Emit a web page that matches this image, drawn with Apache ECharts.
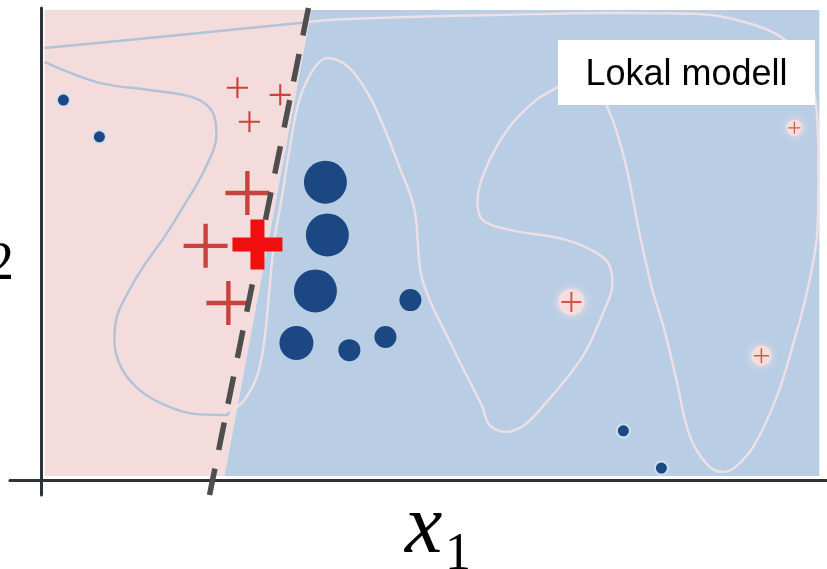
<!DOCTYPE html>
<html>
<head>
<meta charset="utf-8">
<script src="https://cdn.jsdelivr.net/npm/echarts@6/dist/echarts.min.js"></script>
<style>
html,body{margin:0;padding:0;background:#ffffff;}
#chart{width:827px;height:569px;}
</style>
</head>
<body>
<div id="chart"></div>
<script>
// ---- data (x1, x2 in chart units) ----
const pinkRegion = [[0.4,0.8],[0.4,99.6],[34.37,99.6],[23.3,0.85]];
const blueRegion = [[34.37,99.6],[99.03,99.6],[99.03,0.85],[23.3,0.85]];

const localModelLine = [[33.99,100],[21.4,-3.2]];

const contourTopPink = [[0.38,91.5],[20.11,94.72],[32.84,96.84],[33.99,97.05]];
const contourBlue = [
  [33.99,97.05],[36.66,97.48],[46.84,98.11],[58.30,98.54],[72.30,98.96],[83.76,98.75],
  [89.49,97.05],[93.94,94.09],[97.12,88.58],[98.52,80.52],[98.91,66.75],[98.78,52.98],
  [97.51,40.26],[95.85,29.67],[93.69,18.01],[90.76,7.42],[88.21,2.54],[86.69,1.70],
  [84.78,3.18],[82.48,9.54],[80.83,21.19],[79.30,31.79],[77.77,40.26],[76.12,52.34],
  [74.46,66.33],[72.94,75.21],[71.92,79.47],[71.03,83.70],[69.76,85.82],[67.85,85.19],
  [65.56,83.07],[63.01,80.53],[59.57,74.80],[56.65,66.33],[55.50,59.33],[56.14,55.10],
  [59.57,52.98],[66.83,50.86],[71.41,47.26],[72.56,44.08],[72.68,41.32],[71.66,36.02],
  [68.86,26.06],[63.77,15.47],[61.48,11.65],[59.19,10.17],[57.03,11.65],[56.14,15.47],
  [52.32,28.18],[48.50,42.38],[47.50,57.20],[45.57,66.33],[42.64,78.41],[40.48,84.76],
  [38.57,88.15],[36.41,89.43],[34.75,87.31],[32.84,80.53],[31.57,69.93],[30.55,59.33],
  [29.66,50.86],[29.02,40.26],[28.39,29.67],[27.50,22.25],[25.84,16.95],[23.93,14.41]
];
const contourPink = [
  [23.93,14.41],[23.55,13.77],[19.48,13.99],[15.66,15.89],[12.47,19.07],[10.18,23.73],
  [9.29,29.67],[9.67,34.96],[11.20,40.26],[13.11,45.56],[15.66,51.49],[18.20,58.27],
  [20.75,65.69],[22.28,73.11],[21.77,77.98],[19.48,80.95],[13.75,82.64],[7.38,84.13],
  [0.38,88.58]
];

const plusSmall = [[24.95,83.1],[30.4,81.6],[26.48,75.9]];
const plusLarge = [[26.22,60.8],[20.9,49.6],[23.8,37.5]];
const plusFocus = [[27.5,49.9]];
const plusFar = [[67.46,37.7],[91.65,26.3],[95.85,74.6]];

const circlesLarge = [[36.15,63.1],[36.4,51.9],[34.88,40.05]];
const circlesMid = [[32.46,29.0]];
const circlesSmall = [[39.2,27.5],[43.79,30.3],[46.97,38.1]];
const circlesTiny = [[2.8,80.5],[7.38,72.7],[74.08,10.4],[78.92,2.5]];

const boxLabel = 'Lokal modell';
const xLabelMain = 'x';
const xLabelSub = '1';
const yLabelSub = '2';

// ---- styles ----
const plusThin = 'path://M45,0h10v45h45v10h-45v45h-10v-45h-45v-10h45z';
const plusBold = 'path://M36,0h28v36h36v28h-36v36h-28v-36h-36v-28h36z';
const farSizes = [20, 15, 12];
const farHalo = [26, 20, 16];
const navy = '#1b4883';
const plusRed = '#c8433e';

function region(pts, color) {
  return {
    type: 'custom', z: 1, silent: true,
    data: [0],
    renderItem: function (params, api) {
      return {
        type: 'polygon',
        shape: { points: pts.map(p => api.coord(p)) },
        style: { fill: color }
      };
    }
  };
}
function curve(pts, color) {
  return {
    type: 'line', z: 2, data: pts, showSymbol: false, smooth: 0.35, silent: true,
    lineStyle: { color: color, width: 2.5 }
  };
}
function marks(pts, symbol, size, style, z) {
  return {
    type: 'scatter', z: z || 3, data: pts, symbol: symbol, symbolSize: size, silent: true,
    itemStyle: Object.assign({ opacity: 1 }, style)
  };
}

const chart = echarts.init(document.getElementById('chart'), null, { renderer: 'canvas' });
chart.setOption({
  animation: false,
  backgroundColor: '#ffffff',
  grid: { left: 10, right: 0, top: 8, bottom: 74 },
  xAxis: {
    type: 'value', min: -4, max: 100,
    axisLine: { show: true, onZero: true, lineStyle: { color: '#2c333c', width: 3 } },
    axisTick: { show: false }, axisLabel: { show: false }, splitLine: { show: false }
  },
  yAxis: {
    type: 'value', min: -3.2, max: 100,
    axisLine: { show: true, onZero: true, lineStyle: { color: '#2c333c', width: 3 } },
    axisTick: { show: false }, axisLabel: { show: false }, splitLine: { show: false }
  },
  series: [
    region(pinkRegion, '#f4dcdc'),
    region(blueRegion, '#b9cde5'),
    curve(contourTopPink, '#b2c3d9'),
    curve(contourBlue, '#ecdfe6'),
    curve(contourPink, '#b2c3d9'),
    marks(circlesLarge, 'circle', 43, { color: navy }),
    marks(circlesMid, 'circle', 34, { color: navy }),
    marks(circlesSmall, 'circle', 22, { color: navy }),
    marks(circlesTiny, 'circle', 13, { color: navy, borderColor: 'rgba(214,228,246,0.9)', borderWidth: 2 }),
    marks(plusFar, 'circle', (v, p) => farHalo[p.dataIndex], { color: '#f7dedc', shadowBlur: 8, shadowColor: '#f8e4e4' }),
    marks(plusFar, plusThin, (v, p) => farSizes[p.dataIndex], { color: '#d2554c' }, 4),
    marks(plusSmall, plusThin, 21, { color: plusRed }, 4),
    marks(plusLarge, plusThin, 44, { color: plusRed }, 4),
    {
      type: 'line', z: 5, data: localModelLine, showSymbol: false, silent: true,
      lineStyle: { color: '#4e4e4e', width: 5.5, type: [28, 19], cap: 'butt' }
    },
    marks(plusFocus, plusBold, 50, { color: '#f00f0f' }, 6)
  ],
  graphic: [
    { type: 'rect', z: 100, shape: { x: 558, y: 40, width: 257, height: 65 }, style: { fill: '#ffffff' } },
    { type: 'text', z: 101, x: 686.5, y: 75, style: { text: boxLabel, fill: '#000000', font: '36px "Liberation Sans", Arial, sans-serif', align: 'center', verticalAlign: 'middle' } },
    { type: 'text', z: 101, x: 405, y: 530, style: { text: xLabelMain, fill: '#000000', font: 'italic 84px "Liberation Serif", serif', align: 'left', verticalAlign: 'middle' } },
    { type: 'text', z: 101, x: 445, y: 555, style: { text: xLabelSub, fill: '#000000', font: '52px "Liberation Serif", serif', align: 'left', verticalAlign: 'middle' } },
    { type: 'text', z: 101, x: -13, y: 265, style: { text: yLabelSub, fill: '#000000', font: '54px "Liberation Serif", serif', align: 'left', verticalAlign: 'middle' } }
  ]
});
</script>
</body>
</html>
